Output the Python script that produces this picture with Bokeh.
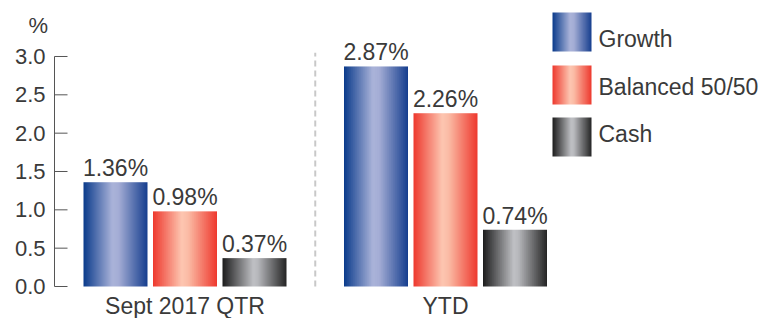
import numpy as np
from bokeh.plotting import figure
from bokeh.models import ColumnDataSource
from bokeh.core.properties import value
from bokeh.embed import file_html
from bokeh.resources import INLINE

# ---- data ----
categories = ["Sept 2017 QTR", "YTD"]
series = ["Growth", "Balanced 50/50", "Cash"]
growth = [1.36, 2.87]
balanced = [0.98, 2.26]
cash = [0.37, 0.74]
y_ticks = [0.0, 0.5, 1.0, 1.5, 2.0, 2.5, 3.0]
y_unit = "%"

# ---- layout (pixels) ----
W, H = 769, 318
G0_PX = 184.5          # centre of first group
GROUP_PX = 260.5       # px between group centres
Y0_PX = 286            # y=0 (px from top)
PX_PER_UNIT = 76.67
BAR_PITCH = 69.5 / GROUP_PX
BAR_W = 64 / GROUP_PX
BASE_FIX = -7          # compensate text baseline placement


def dx(px):
    return (px - G0_PX) / GROUP_PX


def dy(py):
    return (Y0_PX - py) / PX_PER_UNIT


FONT = value("Liberation Sans")
TXT = "#3a3a3a"
AXC = "#555555"
FS = "23px"

stops = {
    "Growth": [(0.0, "#0c3c8c"), (0.45, "#aab3d9"), (0.55, "#a4add5"), (1.0, "#173f8f")],
    "Balanced 50/50": [(0.0, "#ee3a2f"), (0.45, "#fdc6b1"), (0.55, "#fbbba5"), (1.0, "#ee3a2f")],
    "Cash": [(0.0, "#1e1e1e"), (0.48, "#bfc0c4"), (0.55, "#b8b9bd"), (1.0, "#262626")],
}


def gradient(st, n=96):
    pos = np.array([s[0] for s in st])
    cols = np.array([[int(s[1][i:i + 2], 16) for i in (1, 3, 5)] for s in st], dtype=float)
    t = np.linspace(0, 1, n)
    img = np.empty((1, n), dtype=np.uint32)
    v = img.view(dtype=np.uint8).reshape((1, n, 4))
    for c in range(3):
        v[0, :, c] = np.round(np.interp(t, pos, cols[:, c])).astype(np.uint8)
    v[0, :, 3] = 255
    return img


p = figure(width=W, height=H, output_backend="svg", toolbar_location=None,
           x_range=(dx(0), dx(W)), y_range=(dy(H), dy(0)),
           x_axis_location=None, y_axis_location=None,
           min_border_left=0, min_border_right=0, min_border_top=0, min_border_bottom=0,
           background_fill_color="white", border_fill_color="white")
p.outline_line_color = None
p.grid.visible = False

# ---- y axis (drawn through the data scales) ----
ax_x = dx(54)
tick_x = dx(67)
p.segment(x0=[ax_x], y0=[y_ticks[0]], x1=[ax_x], y1=[y_ticks[-1]],
          line_color=AXC, line_width=1)
p.segment(x0=[ax_x] * len(y_ticks), y0=y_ticks, x1=[tick_x] * len(y_ticks), y1=y_ticks,
          line_color=AXC, line_width=1)
p.text(x=[dx(45)] * len(y_ticks), y=y_ticks, text=[f"{t:.1f}" for t in y_ticks],
       text_font=FONT, text_font_size="22px", text_color=TXT,
       text_align="right", text_baseline="middle")
p.text(x=[dx(28)], y=[dy(32)], text=[y_unit], text_font=FONT, text_font_size="22px",
       text_color=TXT, text_align="left", text_baseline="alphabetic", y_offset=BASE_FIX)

# ---- bars ----
all_vals = [growth, balanced, cash]
gx = np.arange(len(categories))

for i, (name, vals) in enumerate(zip(series, all_vals)):
    img = gradient(stops[name])
    centers = gx + (i - 1) * BAR_PITCH
    src = ColumnDataSource(dict(
        image=[img] * len(vals),
        x=list(centers - BAR_W / 2),
        y=[0] * len(vals),
        dw=[BAR_W] * len(vals),
        dh=list(vals),
    ))
    p.image_rgba(image="image", x="x", y="y", dw="dw", dh="dh", source=src)
    p.text(x=list(centers), y=list(vals), text=[f"{v:.2f}%" for v in vals],
           text_font=FONT, text_font_size=FS, text_color=TXT,
           text_align="center", text_baseline="alphabetic", y_offset=-7 + BASE_FIX)

# group labels
p.text(x=list(gx), y=[0] * len(categories), text=categories,
       text_font=FONT, text_font_size=FS, text_color=TXT,
       text_align="center", text_baseline="alphabetic", y_offset=26 + BASE_FIX)

# dashed separator
mid = float(np.mean(gx))
p.segment(x0=[mid], y0=[0], x1=[mid], y1=[3.05], line_color="#c8c8c8",
          line_width=2, line_dash="6 4")

# legend
sw_bottom_px = [51, 104, 156]
txt_base_px = [45, 93, 140]
for name, sb, tb in zip(series, sw_bottom_px, txt_base_px):
    p.image_rgba(image=[gradient(stops[name])], x=[dx(552)], y=[dy(sb)],
                 dw=[39], dh=[39], dw_units="screen", dh_units="screen")
    p.text(x=[dx(598)], y=[dy(tb)], text=[name], text_font=FONT,
           text_font_size=FS, text_color=TXT, text_align="left",
           text_baseline="alphabetic", y_offset=BASE_FIX)

open("out.html", "w").write(file_html(p, INLINE))
